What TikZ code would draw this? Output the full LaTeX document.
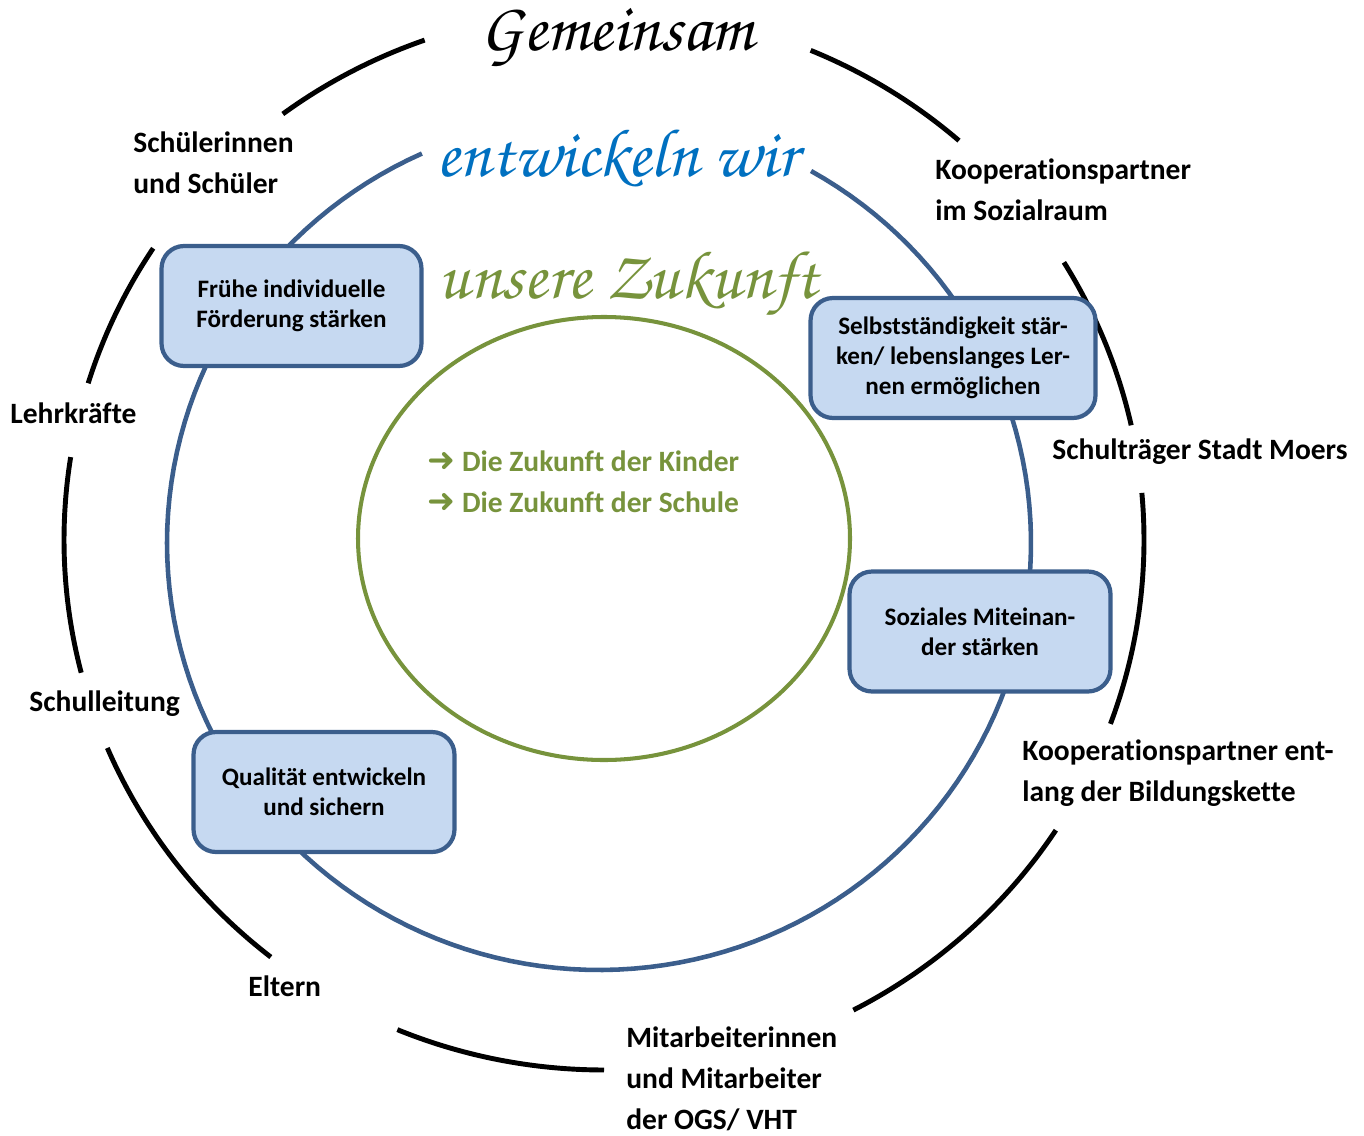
\documentclass[tikz,border=0pt]{standalone}
\usepackage[T1,TU]{fontenc}
\usepackage{fontspec}
\setmainfont[Ligatures=NoCommon]{Carlito}
\newfontfamily\pfeilfont{DejaVu Sans}
\newcommand\schwung{\fontencoding{T1}\fontfamily{pzc}\fontseries{mb}\fontshape{it}\selectfont}
\definecolor{kreisblau}{HTML}{3B5E8C}
\definecolor{kastenblau}{HTML}{C6D9F1}
\definecolor{titelblau}{HTML}{0070C0}
\definecolor{zukunftgruen}{HTML}{77933C}

\begin{document}
\begin{tikzpicture}[x=0.02cm, y=-0.02cm,
  aussen/.style={line width=2.8pt},
  ring/.style={draw=kreisblau, line width=2.6pt},
  kern/.style={draw=zukunftgruen, line width=2.3pt},
  ziel/.style={draw=kreisblau, fill=kastenblau, line width=2.4pt, rounded corners=0.45cm,
    minimum height=2.4cm, align=center, font=\bfseries\fontsize{14.3}{17}\selectfont},
  partner/.style={anchor=west, inner sep=0pt, align=left, font=\bfseries\fontsize{16.8}{23.3}\selectfont},
  titel/.style={inner sep=0pt, font=\schwung\fontsize{39}{40}\selectfont}]
  \useasboundingbox (0,0) rectangle (1364,1135);

  \foreach \a/\b in {-67.5/-48.9, -31.6/-12.5, -5.1/20.3, 33.2/62.5, 90/112.5,
                     128.1/156.9, 165.5/189, 197.2/213.4, 233.5/250.6}
    \draw[aussen] plot[domain=\a:\b, samples=40] ({604+540*cos(\x)}, {540+530*sin(\x)});
  \draw[ring] plot[domain=-60.6:245.8, samples=150] ({599+432*cos(\x)}, {543+427*sin(\x)});
  \draw[kern] (604,538.5) ellipse[x radius=246, y radius=221.5];

  \node[ziel, minimum width=5.2cm] (fruehe) at (291.5,306) {Frühe individuelle\\Förderung stärken};
  \node[ziel, minimum width=5.7cm] (selbst) at (953,358) {Selbstständigkeit stär-\\ken/ lebenslanges Ler-\\nen ermöglichen};
  \node[ziel, minimum width=5.22cm] (sozial) at (980,631.5) {Soziales Miteinan-\\der stärken};
  \node[ziel, minimum width=5.22cm] (qualitaet) at (324,792) {Qualität entwickeln\\und sichern};

  \node[titel] (gemeinsam) at (617,38) {Gemeinsam};
  \node[titel, text=titelblau] (entwickeln) at (617,158) {entwickeln wir};
  \node[titel, text=zukunftgruen] (zukunft) at (628,285) {unsere Zukunft};

  \node[partner, text=zukunftgruen] (ziele) at (427,481.5)
    {{\pfeilfont\bfseries\fontsize{19}{23.3}\selectfont ➜} Die Zukunft der Kinder\\{\pfeilfont\bfseries\fontsize{19}{23.3}\selectfont ➜} Die Zukunft der Schule};

  \node[partner] (schueler) at (133,163) {Schülerinnen\\und Schüler};
  \node[partner] (sozialraum) at (935,189.5) {Kooperationspartner\\im Sozialraum};
  \node[partner] (lehrer) at (10,413) {Lehrkräfte};
  \node[partner] (traeger) at (1052,452) {Schulträger Stadt Moers};
  \node[partner] (leitung) at (29,704) {Schulleitung};
  \node[partner] (bildung) at (1022,773) {Kooperationspartner ent-\\lang der Bildungskette};
  \node[partner] (eltern) at (248,986) {Eltern};
  \node[partner] (ogs) at (626,1079) {Mitarbeiterinnen\\und Mitarbeiter\\der OGS/ VHT};
\end{tikzpicture}
\end{document}
